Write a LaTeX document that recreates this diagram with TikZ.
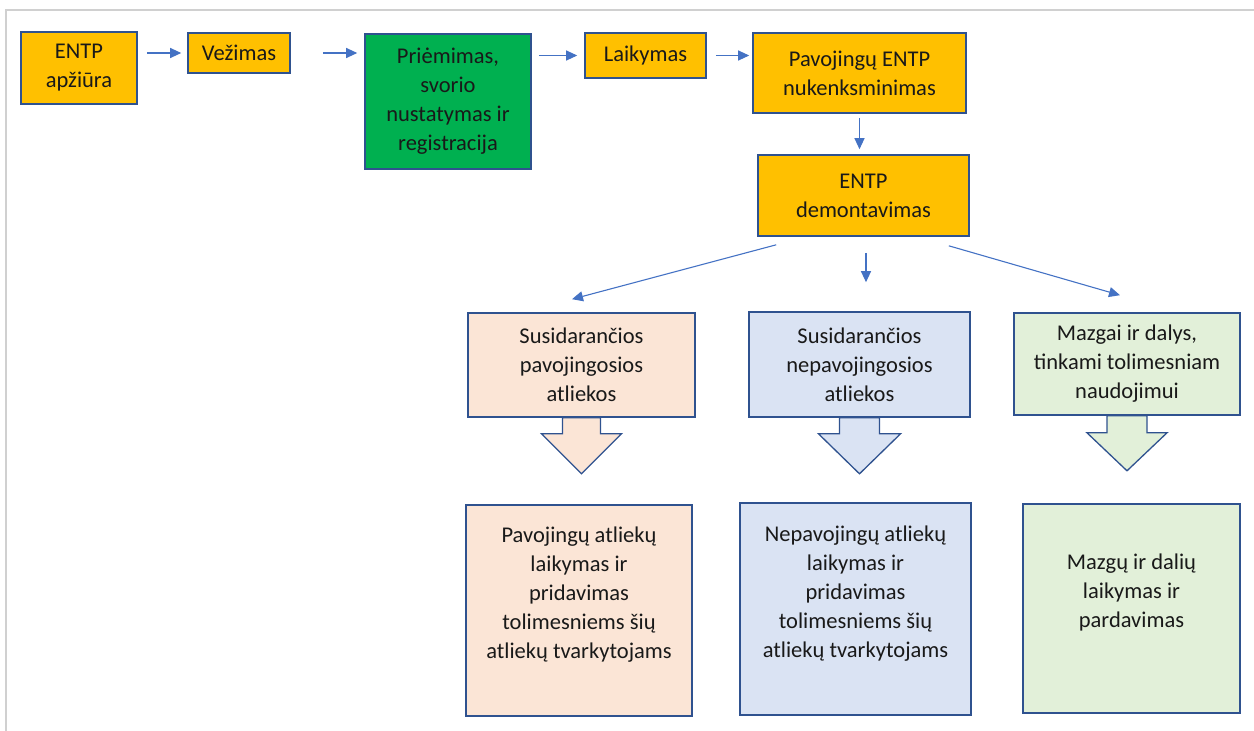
\documentclass[tikz,border=0pt]{standalone}
\usepackage{fontspec}
\setmainfont{Carlito}
\usetikzlibrary{arrows.meta,calc}
\definecolor{orangebox}{HTML}{FFC000}
\definecolor{greenbox}{HTML}{00B050}
\definecolor{edgeblue}{HTML}{2F528F}
\definecolor{arrowblue}{HTML}{4472C4}
\definecolor{peach}{HTML}{FBE5D6}
\definecolor{lightblue}{HTML}{DAE3F3}
\definecolor{lightgreen}{HTML}{E2F0D9}
\definecolor{framegray}{HTML}{D0D0D0}
\tikzset{
  box/.style={draw=edgeblue, line width=1.6pt, inner sep=0pt, align=center,
    font=\fontsize{22.5}{29}\selectfont, text=black!90},
  arr/.style={draw=arrowblue, line width=1.1pt, -{Triangle[length=11pt,width=10pt]}},
  blockarrow/.style={draw=edgeblue, line width=1.3pt, line join=miter},
}
\begin{document}
\begin{tikzpicture}[x=1pt,y=-1pt]
\useasboundingbox (0,0) rectangle (1254,731);
\draw[framegray, line width=2pt] (6,731) -- (6,10) -- (1254,10);

% top row
\node[box, fill=orangebox, minimum width=116pt, minimum height=72pt] (b1) at (79,68) {ENTP\\apžiūra};
\node[box, fill=orangebox, minimum width=102pt, minimum height=40pt] (b2) at (239,53) {Vežimas};
\node[box, fill=greenbox, minimum width=166pt, minimum height=135pt] (b3) at (448,101.5) {Priėmimas,\\svorio\\nustatymas ir\\registracija};
\node[box, fill=orangebox, minimum width=121pt, minimum height=45pt] (b4) at (645.5,55.5) {Laikymas};
\node[box, fill=orangebox, minimum width=213pt, minimum height=80pt] (b5) at (859.5,73) {Pavojingų ENTP\\nukenksminimas};
\node[box, fill=orangebox, minimum width=211pt, minimum height=81pt] (b6) at (863.5,195.5) {ENTP\\demontavimas};

% middle row
\node[box, fill=peach, minimum width=227pt, minimum height=104pt] (c1) at (581.5,365) {Susidarančios\\pavojingosios\\atliekos};
\node[box, fill=lightblue, minimum width=221pt, minimum height=105pt] (c2) at (859.5,364.5) {Susidarančios\\nepavojingosios\\atliekos};
\node[box, fill=lightgreen, minimum width=226pt, minimum height=102pt] (c3) at (1127,364) {Mazgai ir dalys,\\tinkami tolimesniam\\naudojimui};

% bottom row
\node[box, fill=peach, minimum width=226pt, minimum height=211pt] (d1) at (579,610.5) {Pavojingų atliekų\\laikymas ir\\pridavimas\\tolimesniems šių\\atliekų tvarkytojams\\[6pt]};
\node[box, fill=lightblue, minimum width=231pt, minimum height=212pt] (d2) at (855.5,609) {Nepavojingų atliekų\\laikymas ir\\pridavimas\\tolimesniems šių\\atliekų tvarkytojams\\[6pt]};
\node[box, fill=lightgreen, minimum width=217pt, minimum height=209pt] (d3) at (1131.5,608.5) {Mazgų ir dalių\\laikymas ir\\pardavimas\\[6pt]};

% connectors top row
\draw[arr] ([xshift=9pt]b1.east |- b2.west) -- ([xshift=-6pt]b2.west);
\draw[arr] ([xshift=32pt]b2.east) -- ([xshift=-7pt]b3.west |- b2.west);
\draw[arr] ([xshift=7pt]b3.east |- b4.west) -- ([xshift=-7pt]b4.west);
\draw[arr] ([xshift=9pt]b4.east) -- ([xshift=-3pt]b5.west |- b4.west);
\draw[arr] ([yshift=-4pt]b5.south) -- ([yshift=5pt]b5.south |- b6.north);

% from demontavimas
\draw[arr] ([xshift=19pt,yshift=-8pt]b6.south west) -- ([xshift=-9.5pt,yshift=13pt]c1.north);
\draw[arr] ([xshift=2.5pt,yshift=-16pt]b6.south) -- ([xshift=2.5pt,yshift=29pt]b6.south |- c2.north);
\draw[arr] ([xshift=-21pt,yshift=-9pt]b6.south east) -- ([xshift=-7pt,yshift=17pt]c3.north);

% block arrows
\draw[blockarrow, fill=peach] ([xshift=-19pt]c1.south) -- ++(0,16) -- ++(-21,0) -- ([yshift=-56pt]c1.south) -- ([xshift=40pt,yshift=-16pt]c1.south) -- ++(-21,0) -- ([xshift=19pt]c1.south) -- cycle;
\draw[blockarrow, fill=lightblue] ([xshift=-20pt]c2.south) -- ++(0,16) -- ++(-21,0) -- ([yshift=-56pt]c2.south) -- ([xshift=41pt,yshift=-16pt]c2.south) -- ++(-21,0) -- ([xshift=20pt]c2.south) -- cycle;
\draw[blockarrow, fill=lightgreen] ([xshift=-20pt]c3.south) -- ++(0,17) -- ++(-20,0) -- ([yshift=-55pt]c3.south) -- ([xshift=40pt,yshift=-17pt]c3.south) -- ++(-20,0) -- ([xshift=20pt]c3.south) -- cycle;
\end{tikzpicture}
\end{document}
